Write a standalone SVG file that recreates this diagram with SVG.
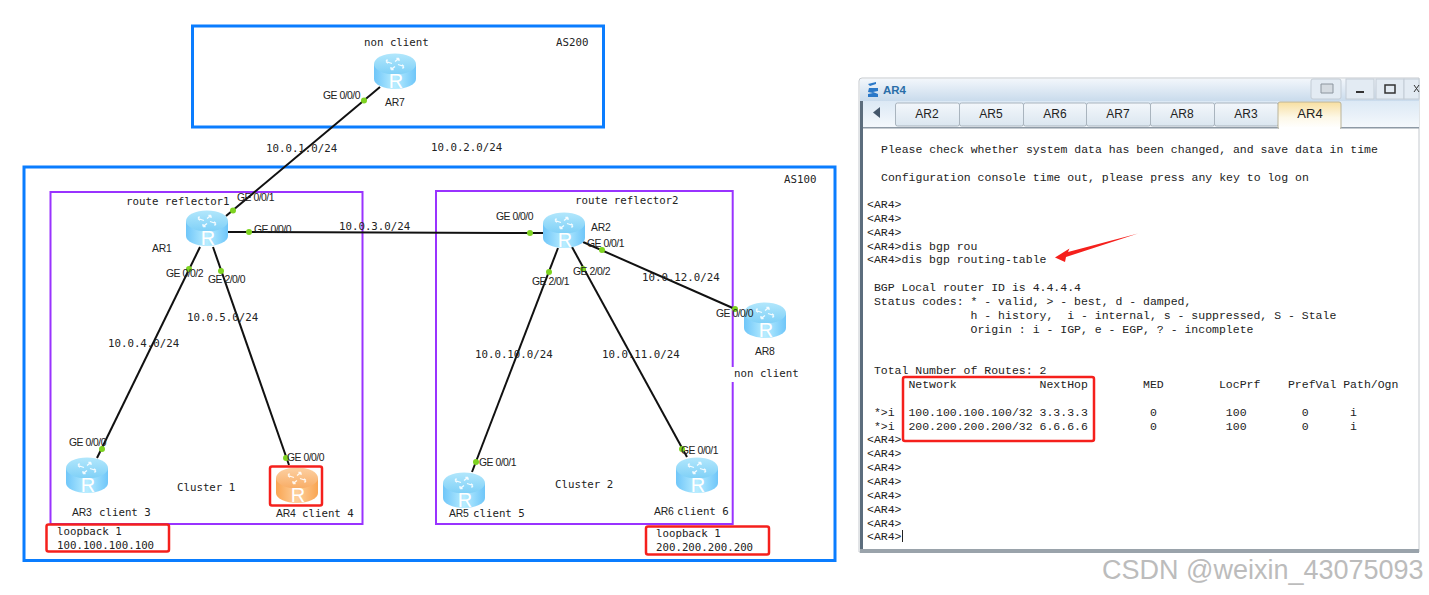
<svg xmlns="http://www.w3.org/2000/svg" width="1429" height="595" viewBox="0 0 1429 595">
<style>
.bg{fill:#fff}
.as{fill:none;stroke:#0a7dff;stroke-width:3}
.cl{fill:none;stroke:#9933ff;stroke-width:2}
.red{fill:none;stroke:#f5201c;stroke-width:2.5}
.ln{fill:none;stroke:#111;stroke-width:2}
.dot{fill:#7ed321}
.ge{font:10.4px "Liberation Sans",Arial,sans-serif;fill:#222;letter-spacing:-.5px}
.nm{font:10.4px "Liberation Sans",Arial,sans-serif;fill:#222;letter-spacing:-.2px}
.mo{font:10.75px "DejaVu Sans Mono",monospace;fill:#222;white-space:pre}
.r{font:20px "Liberation Sans",Arial,sans-serif;fill:#fff;text-anchor:middle}
.t{font:11.5px "Liberation Mono","Courier New",monospace;fill:#222;white-space:pre}
.tab{fill:url(#tabg);stroke:#a9b4be;stroke-width:1}
.tt{font:12px "Liberation Sans",Arial,sans-serif;fill:#222;text-anchor:middle}
</style>
<defs>
<linearGradient id="bb" x1="0" x2="1" y1="0" y2="0"><stop offset="0" stop-color="#6fc6f9"/><stop offset=".5" stop-color="#b8edff"/><stop offset="1" stop-color="#6fc6f9"/></linearGradient>
<linearGradient id="bt" x1="0" x2="0" y1="0" y2="1"><stop offset="0" stop-color="#b2e7fc"/><stop offset="1" stop-color="#7fd0f7"/></linearGradient>
<linearGradient id="ob" x1="0" x2="1" y1="0" y2="0"><stop offset="0" stop-color="#f9a552"/><stop offset=".5" stop-color="#fdcf9c"/><stop offset="1" stop-color="#f9a552"/></linearGradient>
<linearGradient id="ot" x1="0" x2="0" y1="0" y2="1"><stop offset="0" stop-color="#fdd0a2"/><stop offset="1" stop-color="#f8ad66"/></linearGradient>
<linearGradient id="tabg" x1="0" x2="0" y1="0" y2="1"><stop offset="0" stop-color="#f3f7fb"/><stop offset="1" stop-color="#dbe6f0"/></linearGradient>
<linearGradient id="act" x1="0" x2="0" y1="0" y2="1"><stop offset="0" stop-color="#f8dfa0"/><stop offset=".6" stop-color="#fdf8e8"/><stop offset="1" stop-color="#fff"/></linearGradient>
<linearGradient id="tb" x1="0" x2="0" y1="0" y2="1"><stop offset="0" stop-color="#f2f6fb"/><stop offset="1" stop-color="#c9dbec"/></linearGradient>
<linearGradient id="ts" x1="0" x2="0" y1="0" y2="1"><stop offset="0" stop-color="#dce9f5"/><stop offset="1" stop-color="#f4f8fc"/></linearGradient>
<g id="arrows" fill="none" stroke="#fff" stroke-width="1.3" opacity=".9">
<path d="M12 8.500l6 2M12 8.500l1.500-2M12 8.500l2 1.800M30 13.500l-6-2M30 13.500l-1.500 2M30 13.500l-2-1.800M25 5.500l-4 3M25 5.500l-2.600 0M25 5.500l0 2.400M17 16.500l4-3M17 16.500l2.600 0M17 16.500l0-2.400"/>
</g>
<g id="rb"><path d="M0 11v15a21 10 0 0 0 42 0V11z" fill="url(#bb)"/><ellipse cx="21" cy="11" rx="21" ry="10.500" fill="url(#bt)"/><use href="#arrows"/></g>
<g id="ro"><path d="M0 11v15a21 10 0 0 0 42 0V11z" fill="url(#ob)"/><ellipse cx="21" cy="11" rx="21" ry="10.500" fill="url(#ot)"/><use href="#arrows"/></g>
</defs>
<rect class="bg" width="1429" height="595"/>

<g id="areas">
<rect id="as200" class="as" x="192.500" y="26" width="411" height="101"/>
<rect id="as100" class="as" x="24" y="167" width="811" height="393.500"/>
<rect id="cluster1" class="cl" x="50.500" y="192" width="312" height="332"/>
<rect id="cluster2" class="cl" x="436" y="191" width="296.700" height="333"/>
<rect class="bg" x="730" y="367" width="5" height="15"/>
</g>

<g id="connectors">
<path class="ln" d="M380 87L226 216"/>
<path class="ln" d="M228 232L543 233"/>
<path class="ln" d="M200 247L97 458"/>
<path class="ln" d="M213 247L289 465"/>
<path class="ln" d="M558 248L472 472"/>
<path class="ln" d="M572 247L687 457"/>
<path class="ln" d="M583 242L735 309"/>
<g class="dot">
<circle cx="364" cy="100.500" r="3"/><circle cx="233" cy="210.500" r="3"/>
<circle cx="249" cy="232" r="3"/><circle cx="530" cy="233" r="3"/>
<circle cx="189" cy="269" r="3"/><circle cx="102" cy="449" r="3"/>
<circle cx="221" cy="271" r="3"/><circle cx="286" cy="458" r="3"/>
<circle cx="549" cy="272" r="3"/><circle cx="476" cy="462" r="3"/>
<circle cx="583" cy="269" r="3"/><circle cx="682" cy="449" r="3"/>
<circle cx="602" cy="250" r="3"/><circle cx="735" cy="309" r="3"/>
</g>
</g>

<g id="AR7"><use href="#rb" x="374" y="53"/><text class="r" x="396" y="87.500">R</text><text class="nm" x="385" y="106">AR7</text><text class="mo" x="364" y="46">non client</text></g>
<g id="AR1"><use href="#rb" x="186" y="210"/><text class="r" x="208" y="244.500">R</text><text class="nm" x="152" y="252">AR1</text><text class="mo" x="126" y="205">route reflector1</text></g>
<g id="AR2"><use href="#rb" x="543" y="212"/><text class="r" x="565" y="246.500">R</text><text class="nm" x="591" y="231">AR2</text><text class="mo" x="575" y="204">route reflector2</text></g>
<g id="AR3"><use href="#rb" x="66" y="457"/><text class="r" x="88" y="491.500">R</text><text class="nm" x="72" y="516">AR3</text><text class="mo" x="99" y="516">client 3</text></g>
<g id="AR4"><use href="#ro" x="276" y="467"/><text class="r" x="298" y="501.500">R</text><text class="nm" x="276" y="517">AR4</text><text class="mo" x="302" y="517">client 4</text><rect class="red" x="270" y="466.500" width="52" height="39" rx="2"/></g>
<g id="AR5"><use href="#rb" x="443" y="472"/><text class="r" x="465" y="506.500">R</text><text class="nm" x="449" y="517">AR5</text><text class="mo" x="473" y="517">client 5</text></g>
<g id="AR6"><use href="#rb" x="676" y="457"/><text class="r" x="698" y="491.500">R</text><text class="nm" x="654" y="515">AR6</text><text class="mo" x="677" y="515">client 6</text></g>
<g id="AR8"><use href="#rb" x="744" y="302"/><text class="r" x="766" y="336.500">R</text><text class="nm" x="755" y="355">AR8</text><text class="mo" x="734" y="377">non client</text></g>

<g id="interface-labels">
<text class="ge" x="323" y="98.500">GE 0/0/0</text>
<text class="ge" x="237" y="201">GE 0/0/1</text>
<text class="ge" x="254" y="233">GE 0/0/0</text>
<text class="ge" x="166" y="277">GE 0/0/2</text>
<text class="ge" x="208" y="283">GE 2/0/0</text>
<text class="ge" x="69" y="446">GE 0/0/0</text>
<text class="ge" x="287" y="461">GE 0/0/0</text>
<text class="ge" x="496" y="220">GE 0/0/0</text>
<text class="ge" x="587" y="247">GE 0/0/1</text>
<text class="ge" x="573" y="275">GE 2/0/2</text>
<text class="ge" x="532" y="285">GE 2/0/1</text>
<text class="ge" x="716" y="317">GE 0/0/0</text>
<text class="ge" x="479" y="466">GE 0/0/1</text>
<text class="ge" x="681" y="454">GE 0/0/1</text>
</g>

<g id="network-labels">
<text class="mo" x="556" y="46">AS200</text>
<text class="mo" x="784" y="183">AS100</text>
<text class="mo" x="266" y="152">10.0.1.0/24</text>
<text class="mo" x="431" y="151">10.0.2.0/24</text>
<text class="mo" x="339" y="230">10.0.3.0/24</text>
<text class="mo" x="187" y="321">10.0.5.0/24</text>
<text class="mo" x="108" y="347">10.0.4.0/24</text>
<text class="mo" x="475" y="358">10.0.10.0/24</text>
<text class="mo" x="602" y="358">10.0.11.0/24</text>
<text class="mo" x="642" y="281">10.0.12.0/24</text>
<text class="mo" x="177" y="491">Cluster 1</text>
<text class="mo" x="555" y="488">Cluster 2</text>
</g>

<g id="loopback1"><rect class="red" x="46.500" y="524.500" width="122.500" height="27" rx="2"/><text class="mo" x="57" y="535">loopback 1</text><text class="mo" x="57" y="549">100.100.100.100</text></g>
<g id="loopback2"><rect class="red" x="646" y="526.500" width="123" height="28" rx="2"/><text class="mo" x="656" y="537">loopback 1</text><text class="mo" x="656" y="551">200.200.200.200</text></g>

<g id="terminal">
<path d="M859 552V81q0-3 3-3H1419V552z" fill="#fff" stroke="#c4c9ce"/>
<path d="M860 79H1419V101H860z" fill="url(#tb)"/>
<path d="M860 101H1419V127H860z" fill="url(#ts)"/>
<rect x="860" y="127" width="559" height="1.500" fill="#8d99a5"/>
<rect x="860" y="101" width="3" height="449" fill="#5c6d7d"/>
<rect x="860" y="549" width="559" height="4" fill="#9aa3ab"/>
<path d="M868 84l8-2v2l-6 2zM869 88h9v3l-5 1 5 2v3h-10v-3l5-1-5-1z" fill="#2a78c8"/>
<text x="883" y="94" style="font:bold 11.500px 'Liberation Sans',Arial,sans-serif;fill:#2a6ea8">AR4</text>
<g fill="#e3ebf3" stroke="#c3ccd5"><rect x="1311" y="79" width="30" height="20" rx="2"/><rect x="1346" y="79" width="28" height="20"/><rect x="1376" y="79" width="28" height="20"/><rect x="1404" y="79" width="15" height="20"/></g>
<path d="M1321 84h12v9h-12z" fill="#d5dbe1" stroke="#8c959e"/>
<path d="M1356 92h8" stroke="#333" stroke-width="2"/>
<path d="M1385 85h10v8h-10z" fill="none" stroke="#333" stroke-width="1.500"/>
<path d="M1414 85l5 7M1419 85l-5 7" stroke="#333"/>
<path d="M880 107v11l-7-5.500z" fill="#44576b"/>
<g>
<rect class="tab" x="895.500" y="103" width="64" height="23" rx="2"/><text class="tt" x="927" y="118">AR2</text>
<rect class="tab" x="959.500" y="103" width="64" height="23" rx="2"/><text class="tt" x="991" y="118">AR5</text>
<rect class="tab" x="1023.500" y="103" width="63" height="23" rx="2"/><text class="tt" x="1055" y="118">AR6</text>
<rect class="tab" x="1086.500" y="103" width="64" height="23" rx="2"/><text class="tt" x="1118" y="118">AR7</text>
<rect class="tab" x="1150.500" y="103" width="64" height="23" rx="2"/><text class="tt" x="1182" y="118">AR8</text>
<rect class="tab" x="1214.500" y="103" width="64" height="23" rx="2"/><text class="tt" x="1246" y="118">AR3</text>
<path d="M1278 128V104q0-2 2-2h59q2 0 2 2v24z" fill="url(#act)" stroke="#b9b39a"/><text class="tt" x="1310" y="118" style="font-size:13px">AR4</text>
</g>
<rect x="1279" y="127" width="61" height="2" fill="#fff"/>
<text class="t" x="881" y="152.700">Please check whether system data has been changed, and save data in time</text>
<text class="t" x="881" y="180.500">Configuration console time out, please press any key to log on</text>
<text class="t" x="867" y="208">&lt;AR4&gt;</text>
<text class="t" x="867" y="221.800">&lt;AR4&gt;</text>
<text class="t" x="867" y="235.700">&lt;AR4&gt;</text>
<text class="t" x="867" y="249.500">&lt;AR4&gt;dis bgp rou</text>
<text class="t" x="867" y="263.400">&lt;AR4&gt;dis bgp routing-table</text>
<text class="t" x="867" y="291.100"> BGP Local router ID is 4.4.4.4</text>
<text class="t" x="867" y="304.900"> Status codes: * - valid, &gt; - best, d - damped,</text>
<text class="t" x="867" y="318.800">               h - history,  i - internal, s - suppressed, S - Stale</text>
<text class="t" x="867" y="332.600">               Origin : i - IGP, e - EGP, ? - incomplete</text>
<text class="t" x="867" y="374.200"> Total Number of Routes: 2</text>
<text class="t" x="867" y="388">      Network            NextHop        MED        LocPrf    PrefVal Path/Ogn</text>
<text class="t" x="867" y="415.700"> *&gt;i  100.100.100.100/32 3.3.3.3         0          100        0      i</text>
<text class="t" x="867" y="429.600"> *&gt;i  200.200.200.200/32 6.6.6.6         0          100        0      i</text>
<text class="t" x="867" y="443.400">&lt;AR4&gt;</text>
<text class="t" x="867" y="457.300">&lt;AR4&gt;</text>
<text class="t" x="867" y="471.100">&lt;AR4&gt;</text>
<text class="t" x="867" y="485">&lt;AR4&gt;</text>
<text class="t" x="867" y="498.800">&lt;AR4&gt;</text>
<text class="t" x="867" y="512.700">&lt;AR4&gt;</text>
<text class="t" x="867" y="526.500">&lt;AR4&gt;</text>
<text class="t" x="867" y="540.400">&lt;AR4&gt;</text>
<rect x="902" y="530" width="1" height="12" fill="#222"/>
<rect class="red" x="903" y="377" width="191" height="64" rx="2"/>
<path d="M1138 233.500L1068 252L1069.500 248.500L1055 257.500L1065 262L1066 257z" fill="#f5201c"/>
</g>

<text id="watermark" x="1102" y="579" style="font:27px 'Liberation Sans',Arial,sans-serif;fill:#bcbcbc">CSDN @weixin_43075093</text>
</svg>
